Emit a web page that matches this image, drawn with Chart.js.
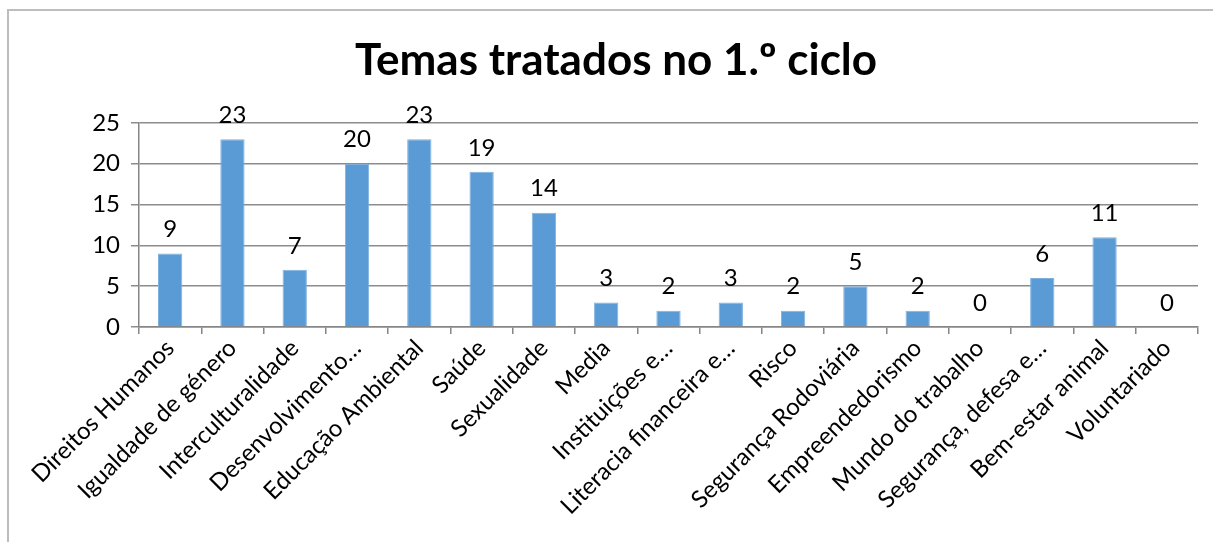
<!DOCTYPE html>
<html>
<head>
<meta charset="utf-8">
<script src="https://cdn.jsdelivr.net/npm/chart.js@4"></script>
<style>
  html, body { margin: 0; padding: 0; background: #fff; }
  #wrap { position: relative; width: 1213px; height: 542px; }
  #frame { position: absolute; left: 7px; top: 9px; width: 1220px; height: 560px; border: 2px solid #bdbdbd; box-sizing: border-box; }
</style>
</head>
<body>
<div id="wrap">
  <div id="frame"></div>
  <canvas id="myChart" width="1213" height="542"></canvas>
</div>
<script>
// categorias e valores
const temas = ['Direitos Humanos', 'Igualdade de género', 'Interculturalidade', 'Desenvolvimento…',
  'Educação Ambiental', 'Saúde', 'Sexualidade', 'Media', 'Instituições e…', 'Literacia financeira e…',
  'Risco', 'Segurança Rodoviária', 'Empreendedorismo', 'Mundo do trabalho', 'Segurança, defesa e…',
  'Bem-estar animal', 'Voluntariado'];
const contagens = [9, 23, 7, 20, 23, 19, 14, 3, 2, 3, 2, 5, 2, 0, 6, 11, 0];
const yTicks = [0, 5, 10, 15, 20, 25];

const fontFam = 'Lato, "Open Sans", sans-serif';

// escreve o valor por cima de cada barra
const valueLabels = {
  id: 'valueLabels',
  afterDatasetsDraw(chart) {
    const ctx = chart.ctx;
    const meta = chart.getDatasetMeta(0);
    ctx.save();
    ctx.font = '24px ' + fontFam;
    ctx.fillStyle = '#000';
    ctx.textAlign = 'center';
    ctx.textBaseline = 'bottom';
    meta.data.forEach((bar, i) => {
      ctx.fillText(String(contagens[i]), bar.x, bar.y - 12);
    });
    ctx.restore();
  }
};

new Chart('myChart', {
  type: 'bar',
  data: {
    labels: temas,
    datasets: [{
      data: contagens,
      backgroundColor: '#5B9BD5',
      borderColor: '#7fb2e0',
      borderWidth: 1,
      barPercentage: 0.78,
      categoryPercentage: 0.5
    }]
  },
  options: {
    responsive: false,
    animation: false,
    layout: { padding: { left: 34, right: 15, top: 0, bottom: 0 } },
    plugins: {
      legend: { display: false },
      tooltip: { enabled: false },
      title: {
        display: true,
        text: 'Temas tratados no 1.º ciclo',
        color: '#000',
        font: { family: fontFam, size: 44, weight: 'bold' },
        padding: { top: 34, bottom: 36 }
      }
    },
    scales: {
      x: {
        afterFit(scale) { scale.height = 215; },
        border: { color: '#868686', width: 1.5 },
        grid: { display: true, drawOnChartArea: false, drawTicks: true, tickLength: 7, color: '#868686', lineWidth: 1.5 },
        ticks: {
          color: '#000',
          font: { family: fontFam, size: 24 },
          maxRotation: 45,
          minRotation: 45,
          autoSkip: false,
          padding: 0
        }
      },
      y: {
        min: 0,
        max: 25,
        afterFit(scale) { scale.width = 105; },
        afterBuildTicks(scale) { scale.ticks = yTicks.map(v => ({ value: v })); },
        border: { color: '#868686', width: 1.5 },
        grid: { color: '#8c8c8c', lineWidth: 1.5, tickLength: 8 },
        ticks: {
          color: '#000',
          font: { family: fontFam, size: 24 },
          padding: 11
        }
      }
    }
  },
  plugins: [valueLabels]
});
</script>
</body>
</html>
